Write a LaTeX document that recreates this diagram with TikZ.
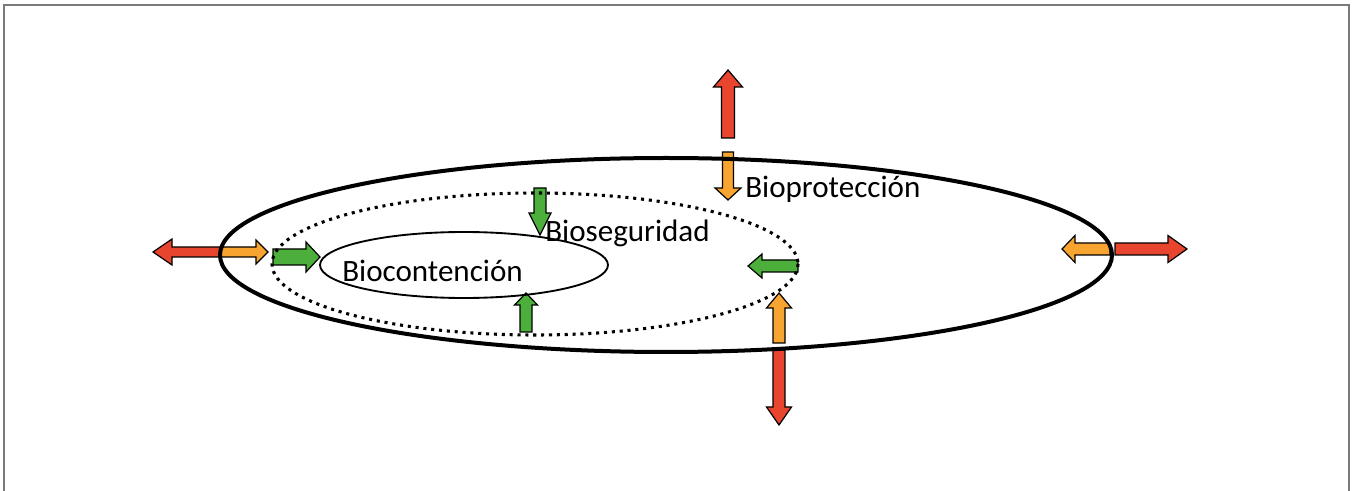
\documentclass[tikz,border=0pt]{standalone}
\usepackage{fontspec}
\setmainfont{Carlito}
\definecolor{ared}{HTML}{E8452F}
\definecolor{aorange}{HTML}{F7A530}
\definecolor{agreen}{HTML}{4CAF3C}
\definecolor{framegray}{HTML}{7A7A7A}
\newcommand\blockarr[8]{%
  \draw[barrow,fill=#1,shift={(#2,#3)},rotate=#4]
    (0,-#6)--({#5-#8},-#6)--({#5-#8},-#7)--(#5,0)--({#5-#8},#7)--({#5-#8},#6)--(0,#6)--cycle;}
\begin{document}
\begin{tikzpicture}[x=0.75pt,y=-0.75pt,
  barrow/.style={draw=black,line width=0.9pt,line join=miter},
  outerell/.style={draw=black,line width=3pt},
  dotell/.style={draw=black,line width=2.3pt,dash pattern=on 2.3pt off 3.6pt},
  innerell/.style={draw=black,line width=1.4pt},
  lbl/.style={anchor=base west,inner sep=0pt,font=\fontsize{23.3}{28}\selectfont}]
\useasboundingbox (0,0) rectangle (1353,491);
\draw[framegray,line width=1.2pt] (4,495)--(4,5)--(1349,5)--(1349,495);
% arrows
\blockarr{ared}{220}{252}{180}{67}{5}{13}{19}
\blockarr{aorange}{220}{252}{0}{48}{5}{12}{12}
\blockarr{agreen}{273}{257}{0}{47}{8}{15}{14}
\blockarr{ared}{728}{138}{90}{68}{6.5}{14.5}{17}
\blockarr{aorange}{728}{152}{270}{48}{5.5}{13}{12}
\blockarr{agreen}{798}{266}{180}{50}{6}{12}{14}
\blockarr{aorange}{779}{343}{90}{50}{6}{12.5}{15}
\blockarr{ared}{779}{350}{270}{75}{6}{12.5}{18}
\blockarr{aorange}{1110}{249}{180}{48}{6}{13.5}{13}
\blockarr{ared}{1115}{249}{0}{72}{6}{13.5}{19}
\blockarr{agreen}{540}{188}{270}{47}{6}{11}{22}
\blockarr{agreen}{526}{332}{90}{39}{6}{11.5}{12}
% ellipses
\draw[outerell] (666,255) ellipse [x radius=446, y radius=97];
\draw[dotell] (535,264) ellipse [x radius=263, y radius=71];
\draw[innerell] (464,265) ellipse [x radius=144, y radius=33];
% labels
\node[lbl] (bc) at (342,282) {Biocontención};
\node[lbl] (bs) at (545,242) {Bioseguridad};
\node[lbl] (bp) at (745,198) {Bioprotección};
\end{tikzpicture}
\end{document}
